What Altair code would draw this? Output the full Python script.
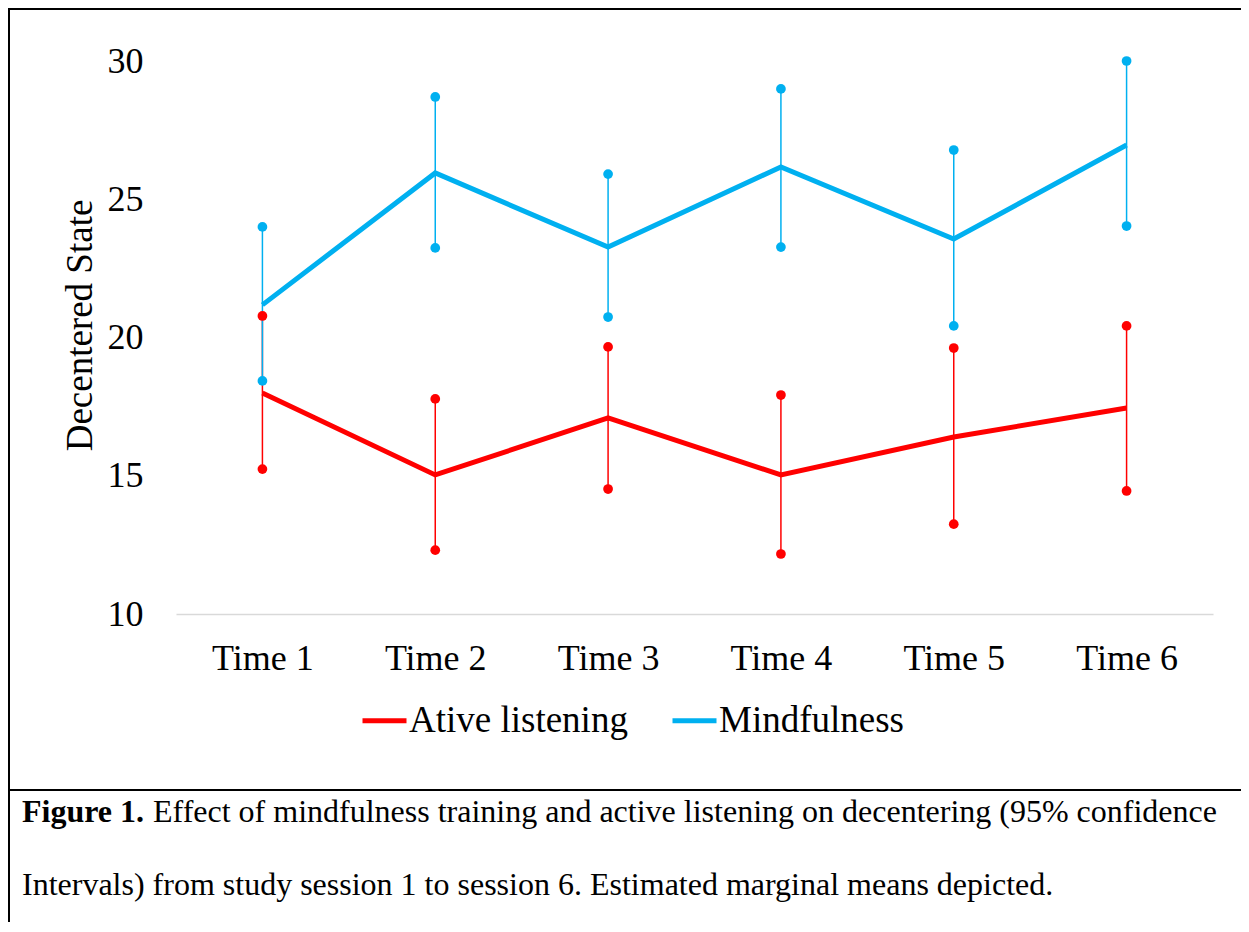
import altair as alt
import pandas as pd

times = ["Time 1", "Time 2", "Time 3", "Time 4", "Time 5", "Time 6"]
groups = ["Ative listening", "Mindfulness"]
colors = ["#FF0000", "#00B0F0"]

active_mean = [17.99, 15.03, 17.09, 15.03, 16.40, 17.45]
active_lo = [15.24, 12.31, 14.52, 12.17, 13.25, 14.45]
active_hi = [20.78, 17.78, 19.66, 17.92, 19.62, 20.42]

mind_mean = [21.18, 25.95, 23.27, 26.17, 23.56, 26.96]
mind_lo = [18.43, 23.24, 20.74, 23.27, 20.42, 24.03]
mind_hi = [24.00, 28.70, 25.91, 28.99, 26.78, 30.00]

y_ticks = [10, 15, 20, 25, 30]
y_title = "Decentered State"
caption_bold = "Figure 1."
caption_1 = "Effect of mindfulness training and active listening on decentering (95% confidence"
caption_2 = "Intervals) from study session 1 to session 6. Estimated marginal means depicted."

rows = []
for g, m, lo, hi in [(groups[0], active_mean, active_lo, active_hi),
                     (groups[1], mind_mean, mind_lo, mind_hi)]:
    for t, a, b, c in zip(times, m, lo, hi):
        rows.append({"time": t, "group": g, "mean": a, "lo": b, "hi": c})
df = pd.DataFrame(rows)

FONT = "Liberation Serif"
W, H = 1037, 553

x = alt.X("time:N", sort=times, scale=alt.Scale(type="point", padding=0.5),
          axis=alt.Axis(title=None, labelAngle=0, ticks=False, domain=True,
                        domainColor="#D9D9D9", domainWidth=1.5,
                        labelFontSize=36, labelFont=FONT, labelColor="#000000",
                        labelPadding=27))
yscale = alt.Scale(domain=[10, 30], nice=False, zero=False)
color_scale = alt.Scale(domain=groups, range=colors)

base = alt.Chart(df)

line = base.mark_line(strokeWidth=5).encode(
    x=x,
    y=alt.Y("mean:Q", scale=yscale,
            axis=alt.Axis(values=y_ticks, title=y_title, domain=False, ticks=False,
                          grid=False, labelFontSize=36, labelFont=FONT,
                          labelColor="#000000", labelPadding=33,
                          titleFontSize=37, titleFont=FONT, titleFontWeight="normal",
                          titleColor="#000000", titleAngle=270, titleX=-96,
                          titleY=264, titleAlign="center", titleBaseline="middle")),
    color=alt.Color("group:N", scale=color_scale, sort=groups,
                    legend=alt.Legend(title=None, orient="none", legendX=184,
                                      legendY=635, direction="horizontal",
                                      symbolType="stroke", symbolSize=1936,
                                      symbolStrokeWidth=5, labelFontSize=37,
                                      labelFont=FONT, labelColor="#000000",
                                      labelLimit=0, labelOffset=0,
                                      columnPadding=34, padding=0)),
)

rules = base.mark_rule(strokeWidth=1.5).encode(
    x=x, y=alt.Y("lo:Q", scale=yscale), y2="hi:Q",
    color=alt.Color("group:N", scale=color_scale, legend=None),
)
dots_lo = base.mark_circle(size=95, opacity=1).encode(
    x=x, y=alt.Y("lo:Q", scale=yscale),
    color=alt.Color("group:N", scale=color_scale, legend=None),
)
dots_hi = base.mark_circle(size=95, opacity=1).encode(
    x=x, y=alt.Y("hi:Q", scale=yscale),
    color=alt.Color("group:N", scale=color_scale, legend=None),
)

one = alt.Data(values=[{"a": 1}])
top_border = alt.Chart(one).mark_rule(color="#000000", strokeWidth=2).encode(
    x=alt.value(-168), x2=alt.value(1100), y=alt.value(-52))
left_border = alt.Chart(one).mark_rule(color="#000000", strokeWidth=2).encode(
    x=alt.value(-167), y=alt.value(-53), y2=alt.value(900))
sep = alt.Chart(one).mark_rule(color="#000000", strokeWidth=2).encode(
    x=alt.value(-168), x2=alt.value(1100), y=alt.value(729))

cap_b = alt.Chart(one).mark_text(align="left", baseline="alphabetic", font=FONT,
                                 fontSize=32, fontWeight="bold", color="#000000").encode(
    x=alt.value(-154), y=alt.value(761), text=alt.value(caption_bold))
cap_1 = alt.Chart(one).mark_text(align="left", baseline="alphabetic", font=FONT,
                                 fontSize=32, color="#000000").encode(
    x=alt.value(-23), y=alt.value(761), text=alt.value(caption_1))
cap_2 = alt.Chart(one).mark_text(align="left", baseline="alphabetic", font=FONT,
                                 fontSize=32, color="#000000").encode(
    x=alt.value(-154), y=alt.value(834), text=alt.value(caption_2))

chart = alt.layer(line, rules, dots_lo, dots_hi, top_border, left_border, sep,
                  cap_b, cap_1, cap_2).properties(
    width=W, height=H,
    autosize=alt.AutoSizeParams(type="none"),
    padding={"left": 168, "top": 53, "right": 28, "bottom": 308},
    background="#FFFFFF",
).configure_view(stroke=None)

chart.save("out.html", embed_options={"renderer": "svg", "actions": False})
